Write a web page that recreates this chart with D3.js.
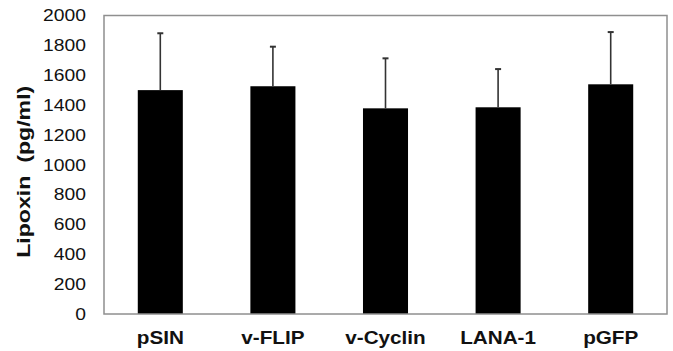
<!DOCTYPE html>
<html><head><meta charset="utf-8">
<script src="https://cdn.jsdelivr.net/npm/d3@7"></script>
<style>
body{margin:0;background:#fff;}
svg{display:block;font-family:"Liberation Sans",Arial,sans-serif;}
</style></head>
<body><svg id="c" width="673" height="351"></svg>
<script>
const categories = ["pSIN","v-FLIP","v-Cyclin","LANA-1","pGFP"];
const values = [1500,1526,1378,1385,1539];
const errors = [381,265,335,256,350];
const yTicks = [0,200,400,600,800,1000,1200,1400,1600,1800,2000];
const yLabel = "Lipoxin  (pg/ml)";

const svg = d3.select("#c");
const m = {l:104, r:6, t:15.5, b:37};
const W = 673, H = 351;
const x = d3.scaleBand().domain(categories).range([m.l, W-m.r]).paddingInner(0.6).paddingOuter(0.3);
const y = d3.scaleLinear().domain([0,2000]).range([H-m.b, m.t]);

// bars
svg.append("g").selectAll("rect").data(categories).join("rect")
  .attr("x", d=>x(d)).attr("width", x.bandwidth())
  .attr("y", (d,i)=>y(values[i])).attr("height", (d,i)=>y(0)-y(values[i]))
  .attr("fill","#000");

// error bars (upper only)
const eg = svg.append("g").attr("stroke","#333").attr("stroke-width",1.6);
categories.forEach((c,i)=>{
  const cx = x(c)+x.bandwidth()/2;
  eg.append("line").attr("x1",cx).attr("x2",cx).attr("y1",y(values[i])).attr("y2",y(values[i]+errors[i]));
  eg.append("line").attr("x1",cx-3).attr("x2",cx+3).attr("y1",y(values[i]+errors[i])).attr("y2",y(values[i]+errors[i])).attr("stroke-width",2);
});

// frame
svg.append("rect").attr("x",m.l).attr("y",m.t).attr("width",W-m.r-m.l).attr("height",y(0)-m.t)
  .attr("fill","none").attr("stroke","#8f8f8f").attr("stroke-width",1.5);

// y axis
const ya = svg.append("g").attr("transform",`translate(${m.l},0)`)
  .call(d3.axisLeft(y).tickValues(yTicks).tickSize(0).tickPadding(15.5).tickFormat(d3.format("d")));
ya.select(".domain").remove();
ya.selectAll("text").attr("font-size",16.5).attr("fill","#111")
  .attr("font-family","'Liberation Sans',Arial,sans-serif")
  .attr("transform","scale(1.17,1)");

// x labels
svg.append("g").selectAll("text").data(categories).join("text")
  .attr("transform", d=>`translate(${x(d)+x.bandwidth()/2},${H-7.5}) scale(1.15,1)`)
  .attr("text-anchor","middle").attr("font-size",18).attr("font-weight","bold").attr("fill","#111")
  .text(d=>d);

// y label
svg.append("text")
  .attr("transform",`translate(30,${(m.t+y(0))/2+7}) rotate(-90) scale(1.25,1)`)
  .attr("text-anchor","middle").attr("font-size",18.5).attr("font-weight","bold").attr("fill","#111")
  .attr("xml:space","preserve").style("white-space","pre")
  .text(yLabel);
</script></body></html>
